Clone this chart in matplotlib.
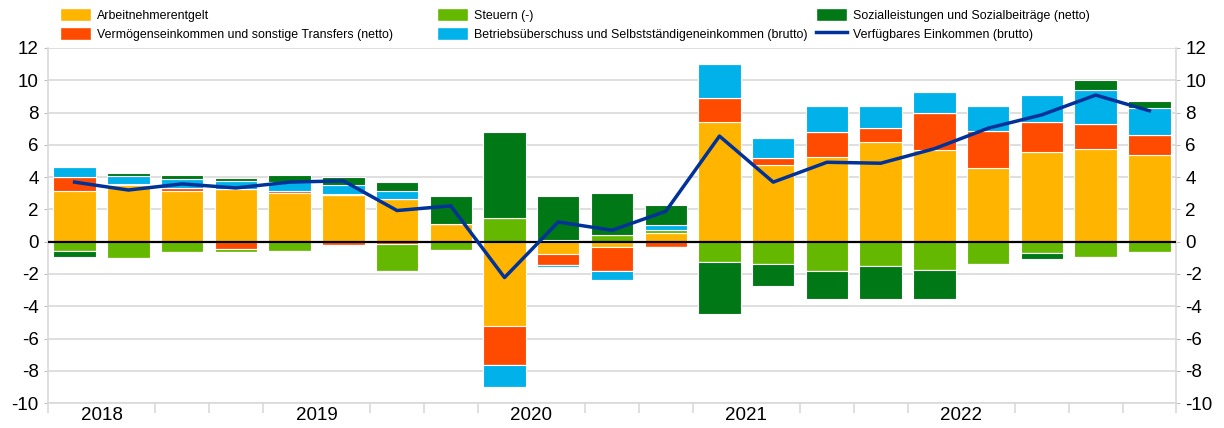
import numpy as np
import matplotlib
matplotlib.use("Agg")
from matplotlib import pyplot as plt
from matplotlib.patches import Patch
from matplotlib.lines import Line2D

plt.rcParams['font.family'] = ['Liberation Sans', 'DejaVu Sans']
plt.rcParams['axes.unicode_minus'] = False

# quarters 2018Q2 .. 2023Q2
quarters = ['2018Q2', '2018Q3', '2018Q4', '2019Q1', '2019Q2', '2019Q3', '2019Q4',
            '2020Q1', '2020Q2', '2020Q3', '2020Q4', '2021Q1', '2021Q2', '2021Q3',
            '2021Q4', '2022Q1', '2022Q2', '2022Q3', '2022Q4', '2023Q1', '2023Q2']
years = ['2018', '2019', '2020', '2021', '2022']

arbeit = [3.15, 3.52, 3.17, 3.25, 3.0, 2.88, 2.63, 1.1, -5.24, -0.79, -0.35,
          0.56, 7.44, 4.75, 5.25, 6.2, 5.65, 4.57, 5.57, 5.76, 5.34]
vermoegen = [0.83, 0.08, 0.14, -0.48, 0.12, -0.19, -0.14, 0.0, -2.38, -0.64, -1.46,
             -0.35, 1.44, 0.46, 1.56, 0.87, 2.33, 2.31, 1.85, 1.56, 1.27]
steuern = [-0.6, -1.02, -0.65, -0.14, -0.56, 0.05, -1.68, -0.54, 1.45, 0.1, 0.44,
           0.15, -1.25, -1.35, -1.83, -1.48, -1.73, -1.35, -0.67, -0.96, -0.64]
betrieb = [0.62, 0.44, 0.6, 0.48, 0.56, 0.6, 0.5, 0.0, -1.38, -0.14, -0.54,
           0.31, 2.12, 1.23, 1.61, 1.35, 1.27, 1.52, 1.66, 2.1, 1.64]
sozial = [-0.33, 0.21, 0.23, 0.19, 0.48, 0.47, 0.56, 1.74, 5.36, 2.7, 2.6,
          1.23, -3.23, -1.4, -1.73, -2.07, -1.82, 0.0, -0.39, 0.58, 0.46]
verfuegbar = [3.69, 3.2, 3.58, 3.33, 3.69, 3.77, 1.93, 2.22, -2.22, 1.22, 0.71,
              1.88, 6.54, 3.69, 4.92, 4.86, 5.76, 7.03, 7.86, 9.08, 8.11]

labels = ['Arbeitnehmerentgelt',
          'Vermögenseinkommen und sonstige Transfers (netto)',
          'Steuern (-)',
          'Betriebsüberschuss und Selbstständigeneinkommen (brutto)',
          'Sozialleistungen und Sozialbeiträge (netto)']
line_label = 'Verfügbares Einkommen (brutto)'
colors = ['#FFB400', '#FF4B00', '#65B800', '#00B1EA', '#007816']
line_color = '#003299'

fig = plt.figure(figsize=(12.24, 4.28), dpi=100)
ax = fig.add_axes([0.039, 0.058, 0.922, 0.830])

x = np.arange(len(quarters))
pos_bottom = np.zeros(len(x))
neg_bottom = np.zeros(len(x))
for series, col in zip([arbeit, vermoegen, steuern, betrieb, sozial], colors):
    v = np.array(series)
    pos = np.where(v > 0, v, 0)
    neg = np.where(v < 0, v, 0)
    ax.bar(x, pos, 0.79, bottom=pos_bottom, color=col, edgecolor='white', linewidth=0.8, zorder=2)
    ax.bar(x, neg, 0.79, bottom=neg_bottom, color=col, edgecolor='white', linewidth=0.8, zorder=2)
    pos_bottom += pos
    neg_bottom += neg

ax.plot(x, verfuegbar, color=line_color, linewidth=2.5, zorder=4)
ax.axhline(0, color='black', linewidth=1.6, zorder=3)

ax.set_ylim(-10, 12)
ax.set_xlim(-0.5, len(x) - 0.5)
ax.set_yticks(np.arange(-10, 13, 2))
ax.yaxis.grid(True, color='#d9d9d9', linewidth=1.2, zorder=0)
ax.set_axisbelow(True)
ax.tick_params(axis='y', labelsize=13.5, length=3, color='#bfbfbf',
               left=True, right=True, labelleft=True, labelright=True)

# year labels at mid-year, quarter separators as minor ticks
ax.set_xticks([0.5 + 4 * i for i in range(len(years))])
ax.set_xticklabels(years)
ax.set_xticks(np.arange(-0.5, len(x), 1), minor=True)
ax.tick_params(axis='x', which='major', length=0, labelsize=13.5, pad=3)
ax.tick_params(axis='x', which='minor', length=7, color='#d9d9d9', width=1.2)

for side in ['left', 'right', 'bottom']:
    ax.spines[side].set_color('#d9d9d9')
    ax.spines[side].set_linewidth(1.2)
ax.spines['top'].set_visible(False)

# legend: three columns placed like the original
handles = [Patch(facecolor=c, edgecolor='white') for c in colors]
handles.append(Line2D([0], [0], color=line_color, linewidth=2.5))
all_labels = labels + [line_label]
col_x = [60 / 1224, 437 / 1224, 816 / 1224]
for k in range(3):
    leg = fig.legend(handles[2 * k:2 * k + 2], all_labels[2 * k:2 * k + 2],
                     loc='upper left', bbox_to_anchor=(col_x[k], 0.981), frameon=False,
                     fontsize=8.9, handlelength=2.5, handleheight=1.2, handletextpad=0.5,
                     labelspacing=0.45, borderpad=0, borderaxespad=0)

fig.savefig('out.png', dpi=100)
